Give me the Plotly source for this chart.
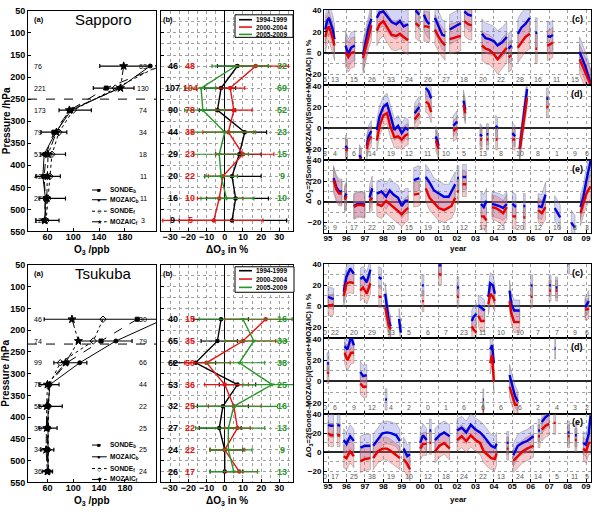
import plotly.graph_objects as go

FONT = "Liberation Sans"
W, H = 608, 512

# ---------------- data ----------------
LEVELS = [175, 225, 275, 325, 375, 425, 475, 525]
PROFILE_NAMES = ["SONDE<sub>b</sub>", "MOZAIC<sub>b</sub>", "SONDE<sub>f</sub>", "MOZAIC<sub>f</sub>"]
PERIODS = ["1994-1999", "2000-2004", "2005-2009"]

# Sapporo (a)
SAP_SONDE_B = [236, 151, 95, 70, 58, 55, 57, 55]
SAP_MOZAIC_B = [219, 171, 97, 73, 55, 53, 57, 56]
SAP_SONDE_F = [232, 165, 100, 78, 67, 64, 61, 58]
SAP_MOZAIC_F = [178, 173, 94, 74, 61, 60, 59, 56]
SAP_ERR_LO = [141, 131, 78, 50, 50, 42, 47, 42]
SAP_ERR_HI = [221, 194, 128, 90, 88, 80, 88, 78]
SAP_N_LEFT = [76, 221, 173, 79, 51, 42, 27, 12]
SAP_N_RIGHT = [63, 130, 74, 34, 18, 11, 11, 3]
SAP_TROPO = 250

# Tsukuba (a)
TSU_SONDE_B = [199, 143, 90, 62, 60, 60, 60, 60]
TSU_MOZAIC_B = [240, 166, 110, 64, 61, 61, 60, 61]
TSU_SONDE_F = [146, 131, 80, 63, 62, 61, 61, 62]
TSU_MOZAIC_F = [98, 108, 88, 60, 59, 59, 58, 60]
TSU_ERR_LO = [55, 105, 70, 47, 47, 47, 50, 52]
TSU_ERR_HI = [235, 191, 121, 78, 83, 75, 70, 68]
TSU_N_LEFT = [46, 74, 99, 75, 55, 39, 34, 36]
TSU_N_RIGHT = [30, 79, 66, 44, 22, 25, 25, 24]
TSU_TROPO = 232

# Sapporo (b)
SAP_B_BLACK = [7, -2, -4, 11, 8, 4, 6, 4]
SAP_B_BLACK_LO = [-4, -11, -14, 0, -5, -11, -10, -25]
SAP_B_BLACK_HI = [24, 6, 6, 23, 20, 20, 24, 34]
SAP_B_RED = [17, 3, 5, 2, 10, -1, -3, -6]
SAP_B_RED_LO = [6, -5, -5, -12, -5, -9, -15, -34]
SAP_B_RED_HI = [35, 11, 15, 16, 27, 7, 10, 21]
SAP_B_GREEN = [6, -13, -12, 0, -3, -2, 1, None]
SAP_B_GREEN_LO = [-7, -22, -22, -18, -17, -11, -13, None]
SAP_B_GREEN_HI = [24, -5, 0, 17, 13, 7, 16, None]
SAP_B_N_BLACK = [46, 107, 90, 44, 29, 20, 16, 9]
SAP_B_N_RED = [48, 104, 78, 38, 23, 22, 10, 5]
SAP_B_N_GREEN = [32, 69, 52, 23, 15, 9, 10, None]

# Tsukuba (b)
TSU_B_BLACK = [-2, -4, -16, 7, -1, -3, 0, 0]
TSU_B_BLACK_LO = [-17, -13, -28, -3, -15, -14, -8, -8]
TSU_B_BLACK_HI = [13, 7, -5, 17, 13, 9, 10, 10]
TSU_B_RED = [22.5, 10, -10, 0, 5, 7, 0, 8]
TSU_B_RED_LO = [0, 0, -22, -11, -9, 0, -8, 0]
TSU_B_RED_HI = [50, 28, 3, 13, 20, 14, 11, 18]
TSU_B_GREEN = [10, 16, 8, 26, 5, 2, 2, 5]
TSU_B_GREEN_LO = [-14, 0, -10, 10, -17, -16, -8, -8]
TSU_B_GREEN_HI = [37, 34, 22, 39, 29, 22, 15, 18]
TSU_B_N_BLACK = [40, 65, 62, 53, 32, 27, 24, 26]
TSU_B_N_RED = [15, 35, 50, 36, 25, 22, 22, 17]
TSU_B_N_GREEN = [16, 33, 38, 25, 16, 13, 9, 13]

# time axis
YEAR_TICKS = [1995, 1996, 1997, 1998, 1999, 2000, 2001, 2002, 2003, 2004, 2005, 2006, 2007, 2008, 2009]
YEAR_LABELS = ["95", "96", "97", "98", "99", "00", "01", "02", "03", "04", "05", "06", "07", "08", "09"]
COUNT_POS = [1994.82, 1995.4, 1996.4, 1997.4, 1998.4, 1999.4, 2000.4, 2001.4, 2002.4,
             2003.4, 2004.4, 2005.4, 2006.4, 2007.4, 2008.4, 2009.06]

SAP_C_N = [5, 13, 15, 26, 33, 24, 26, 27, 18, 20, 22, 28, 16, 11, 15]
SAP_D_N = [8, 4, 6, 14, 19, 12, 11, 10, 5, 13, 8, 10, 8, 1, 9, 6]
SAP_E_N = [5, 9, 17, 22, 20, 15, 19, 16, 12, 17, 23, 20, 12, 10, 8, 3]
TSU_C_N = [0, 22, 20, 29, 13, 5, 6, 7, 23, 11, 10, 10, 7, 7, 9, 6]
TSU_D_N = [0, 6, 9, 12, 4, 2, 0, 1, 6, 6, 6, 6, 2, 4, 3, 2]
TSU_E_N = [0, 17, 25, 38, 19, 10, 12, 18, 24, 22, 13, 24, 14, 5, 11, 5]

SAP_C_T = [1994.85, 1994.95, 1995.05, 1995.15, 1995.25, 1995.35, None,
           1995.95, 1996.1, 1996.25, 1996.45, None,
           1996.9, 1997.05, 1997.2, 1997.35, None,
           1997.65, 1997.8, 1998.0, 1998.2, 1998.45, 1998.7, 1998.9, 1999.1, 1999.35, None,
           1999.75, 1999.95, None,
           2000.2, 2000.35, 2000.5, None,
           2000.8, 2001.0, 2001.2, 2001.35, None,
           2001.6, 2001.8, 2002.0, 2002.2, None,
           2002.4, 2002.6, 2002.8, None,
           2003.35, 2003.55, 2003.75, 2004.0, 2004.2, 2004.45, 2004.7, None,
           2004.8, 2004.95, None,
           2005.3, 2005.5, 2005.7, 2005.95, None,
           2006.25, 2006.35, None,
           2006.9, 2007.05, 2007.2, None,
           2008.65, 2008.8, 2008.95, 2009.1, 2009.25]
SAP_C_BLUE = [22, 30, 33, 27, 22, 13, None,
              7, -1, 5, 7, None,
              -2, 10, 24, 32, None,
              33, 38, 39, 35, 29, 27, 30, 25, 27, None,
              40, 36, None,
              36, 30, 27, None,
              33, 25, 17, 16, None,
              22, 24, 26, 28, None,
              39, 36, 35, None,
              18, 14, 13, 11, 7, 10, 15, None,
              4, 7, None,
              18, 24, 27, 33, None,
              19, 19, None,
              16, 15, 17, None,
              1, -5, -12, -20, -29]
SAP_C_RED = [15, 22, 25, 20, 14, 7, None,
             1, -4, 0, 1, None,
             -5, 6, 18, 26, None,
             21, 27, 30, 24, 17, 16, 18, 15, 12, None,
             28, 25, None,
             25, 25, 24, None,
             22, 15, 10, 7, None,
             13, 14, 15, 16, None,
             30, 27, 26, None,
             7, 4, 3, -1, -6, -1, 5, None,
             -4, -2, None,
             5, 10, 15, 18, None,
             4, 4, None,
             7, 8, 10, None,
             -6, -12, -18, -24, -30]
SAP_C_SPREAD = 14

SAP_D_T = [1995.95, 1996.05, None,
           1996.7, 1996.8, None,
           1997.1, 1997.2, 1997.35, None,
           1997.65, 1997.8, 1998.0, 1998.2, 1998.35, 1998.6, 1998.8, 1999.0, 1999.2, 1999.35, None,
           1999.7, 1999.95, None,
           2000.3, 2000.45, 2000.6, None,
           2000.85, 2001.0, None,
           2001.8, 2002.0, None,
           2002.35, 2002.45, None,
           2003.25, 2003.35, None,
           2003.6, 2003.7, None,
           2004.1, 2004.2, None,
           2005.0, 2005.15, None,
           2005.4, 2005.6, 2005.8, None,
           2006.85, 2006.95]
SAP_D_BLUE = [-17, -20, None,
              -26, -29, None,
              -17, -8, -3, None,
              -2, 11, 20, 23, 14, -2, 2, -5, 0, -2, None,
              14, 20, None,
              38, 35, 28, None,
              -8, -17, None,
              2, 6, None,
              26, 17, None,
              -6, -8, None,
              -6, -6, None,
              2, 0, None,
              -5, -8, None,
              -20, 8, 37, None,
              28, 28]
SAP_D_RED = [-20, -22, None,
             -29, -30, None,
             -20, -12, -8, None,
             -12, 2, 12, 14, 3, -9, -8, -11, -7, -6, None,
             8, 14, None,
             25, 23, 15, None,
             -12, -20, None,
             -3, 0, None,
             22, 14, None,
             -11, -11, None,
             -11, -11, None,
             -11, -11, None,
             -11, -11, None,
             -20, 5, 29, None,
             20, 20]
SAP_D_SPREAD = 10

SAP_E_T = [1995.3, 1995.45, 1995.6, 1995.75, None,
           1995.9, 1996.0, None,
           1996.4, 1996.6, 1996.8, 1997.0, None,
           1997.25, 1997.4, None,
           1997.65, 1997.9, 1998.15, 1998.35, 1998.55, 1998.8, 1999.0, 1999.2, 1999.35, None,
           1999.65, 1999.95, None,
           2000.3, 2000.5, 2000.75, 2001.0, 2001.3, 2001.55, 2001.7, 2001.9, None,
           2002.0, 2002.1, None,
           2002.3, 2002.5, None,
           2003.3, 2003.45, 2003.6, None,
           2003.9, 2004.1, 2004.3, 2004.5, 2004.7, None,
           2005.0, 2005.2, None,
           2005.6, 2005.7, None,
           2006.4, 2006.6, 2006.8, None,
           2007.3, 2007.45, 2007.6, None,
           2008.2, 2008.4, None,
           2008.7, 2008.85, 2009.0, 2009.15, 2009.25]
SAP_E_BLUE = [23, 14, 10, 10, None,
              4, 8, None,
              -4, -2, -2, -3, None,
              4, 13, None,
              8, 10, 5, 11, 7, 4, -4, 1, 1, None,
              21, 23, None,
              24, 19, 11, 8, 5, 5, 10, 17, None,
              23, 23, None,
              24, 24, None,
              -2, -5, 1, None,
              -2, -3, -4, -6, -2, None,
              -2, -5, None,
              -4, -4, None,
              -4, -5, 7, None,
              -6, -11, -15, None,
              -20, -25, None,
              -5, 4, 19, 33, 40]
SAP_E_RED = [21, 12, 8, 8, None,
             2, 6, None,
             -5, -3, -3, -4, None,
             1, 4, None,
             -2, -4, 1, -2, -5, -9, -12, -8, -6, None,
             7, 8, None,
             13, 4, -1, -6, -8, -5, -4, 4, None,
             10, 10, None,
             17, 17, None,
             -14, -14, -18, None,
             -5, -6, -8, -11, -5, None,
             -14, -14, None,
             -15, -15, None,
             -8, -11, -5, None,
             None, None, None, None,
             None, None, None,
             -11, -2, 7, 12, 15]
SAP_E_SPREAD = 12

TSU_C_T = [1995.0, 1995.15, 1995.3, None,
           1995.85, 1996.0, 1996.2, 1996.4, None,
           1996.75, 1996.9, 1997.1, 1997.3, None,
           1997.75, 1997.9, None,
           1998.1, 1998.2, 1998.3, 1998.4, None,
           1998.85, 1998.95, None,
           2000.1, 2000.2, None,
           2001.0, 2001.15, None,
           2002.0, 2002.1, None,
           2002.8, 2002.9, 2003.05, None,
           2003.15, 2003.3, 2003.5, None,
           2003.7, 2003.8, 2003.95, 2004.05, None,
           2004.85, 2004.95, 2005.1, 2005.4, None,
           2006.0, 2006.1, None,
           2007.0, 2007.1, None,
           2007.35, 2007.45, None,
           2008.0, 2008.1, None,
           2008.95, 2009.05, 2009.15]
TSU_C_BLUE = [9, 8, 7, None,
              14, 28, 36, 31, None,
              26, 28, 23, 35, None,
              28, 26, None,
              12, 1, -14, -19, None,
              -12, -25, None,
              20, 20, None,
              39, 39, None,
              18, 18, None,
              -14, -10, -7, None,
              1, -1, -4, None,
              9, 22, 20, 12, None,
              15, 2, -4, -4, None,
              20, 20, None,
              20, 20, None,
              18, 18, None,
              41, 41, None,
              -1, 2, 5]
TSU_C_RED = [1, 1, 2, None,
             10, 22, 23, 22, None,
             15, 18, 12, 22, None,
             9, 9, None,
             -1, -11, -19, -22, None,
             None, None, None,
             5, 5, None,
             31, 30, None,
             9, 9, None,
             -19, -22, -25, None,
             -9, -14, -14, None,
             2, 12, 9, 5, None,
             5, -7, -15, -15, None,
             9, 9, None,
             15, 15, None,
             15, 15, None,
             None, None, None,
             -3, -3, -2]
TSU_C_SPREAD = 10

TSU_D_T = [1994.95, 1995.05, None,
           1995.9, 1996.05, 1996.25, 1996.4, None,
           1996.75, 1996.9, 1997.1, None,
           1998.1, 1998.2, None,
           2003.4, 2003.45, None,
           2003.8, 2003.9, 2004.0, None,
           2004.85, 2005.0, 2005.15, 2005.3, None,
           2007.3, 2007.35]
TSU_D_BLUE = [17, 17, None,
              33, 30, 42, 34, None,
              9, 5, 6, None,
              -17, -17, None,
              -17, -17, None,
              30, 34, 17, None,
              6, -5, -14, -19, None,
              31, 31]
TSU_D_RED = [8, 8, None,
             27, 20, 27, 27, None,
             -2, -5, -5, None,
             None, None, None,
             -28, -28, None,
             17, 25, 0, None,
             -5, -14, -22, -22, None,
             None, None]
TSU_D_SPREAD = 10

TSU_E_T = [1995.0, 1995.15, 1995.3, None,
           1995.5, 1995.65, None,
           1995.85, 1996.0, 1996.2, 1996.4, None,
           1996.75, 1997.0, 1997.3, None,
           1997.45, 1997.7, 1997.95, 1998.2, 1998.45, 1998.7, 1998.9, None,
           1999.1, 1999.3, 1999.45, None,
           2000.0, 2000.15, 2000.35, None,
           2000.5, 2000.6, None,
           2000.8, 2001.05, 2001.3, 2001.6, None,
           2002.0, 2002.25, 2002.5, 2002.75, 2003.0, 2003.25, 2003.45, 2003.65, 2003.85, 2004.05, 2004.15, None,
           2004.7, 2004.8, None,
           2005.05, 2005.3, 2005.55, 2005.8, 2006.15, None,
           2006.4, 2006.5, None,
           2006.6, 2006.8, 2007.0, None,
           2007.25, 2007.35, None,
           2008.0, 2008.1, None,
           2008.4, 2008.5, None,
           2008.85, 2009.0, 2009.15, 2009.25]
TSU_E_BLUE = [29, 28, 28, None,
              29, 28, None,
              13, 9, 17, 12, None,
              5, 7, 7, None,
              7, 13, 20, 21, 20, 18, 12, None,
              4, -4, -2, None,
              10, 18, 13, None,
              23, 23, None,
              13, 18, 21, 17, None,
              23, 26, 21, 29, 24, 21, 17, 12, 7, 5, 9, None,
              10, 10, None,
              -3, 7, 10, 12, 17, None,
              23, 23, None,
              32, 37, 40, None,
              None, None, None,
              21, 21, None,
              18, 18, None,
              10, 8, 20, 39]
TSU_E_RED = [20, 18, 18, None,
             18, 18, None,
             -4, -6, 1, -4, None,
             -9, -7, -6, None,
             -6, 1, 4, 4, 1, -3, -6, None,
             -7, -12, -18, None,
             4, 9, 9, None,
             10, 10, None,
             1, 7, 10, 4, None,
             13, 17, 12, 18, 13, 10, 1, -3, -6, -7, -1, None,
             4, 4, None,
             -9, -4, 1, 4, 7, None,
             17, 17, None,
             24, 28, 30, None,
             31, 31, None,
             17, 17, None,
             13, 13, None,
             4, 1, 10, 10]
TSU_E_SPREAD = 12

# ---------------- styling helpers ----------------
BLACK = "black"
RED = "rgb(230,20,20)"
GREEN = "rgb(40,150,40)"
BLUE_LINE = "rgb(0,0,225)"
RED_LINE = "rgb(230,0,0)"
BLUE_BAND = "rgba(120,120,230,0.32)"
RED_BAND = "rgba(240,100,100,0.35)"
GRID = "rgb(160,160,160)"


def px(xp):
    return xp / W


def py(yp):
    return 1 - yp / H


def ax_id(i, axis):
    return axis if i == 1 else f"{axis}{i}"


def lay_key(i, axis):
    return f"{axis}axis" if i == 1 else f"{axis}axis{i}"


def base_axis(**kw):
    d = dict(showline=True, mirror=True, linecolor="black", linewidth=1,
             ticks="inside", ticklen=3, tickcolor="black", tickwidth=1,
             tickfont=dict(family=FONT, size=9, color="black", weight="bold"),
             showgrid=False, zeroline=False, fixedrange=True)
    d.update(kw)
    return d


fig = go.Figure()
layout = {}
annotations = []
shapes = []


def ann(text, x, y, xref="paper", yref="paper", size=9, color="black", bold=True,
        xanchor="center", yanchor="middle", angle=0):
    annotations.append(dict(text=text, x=x, y=y, xref=xref, yref=yref, showarrow=False,
                            xanchor=xanchor, yanchor=yanchor, textangle=angle,
                            font=dict(family=FONT, size=size, color=color,
                                      weight="bold" if bold else "normal")))


def runs(t, v):
    seg = []
    for a, b in zip(t, v):
        if a is None or b is None:
            if seg:
                yield seg
            seg = []
        else:
            seg.append((a, b))
    if seg:
        yield seg


def add_band(t, v, spread, color, xa, ya):
    xs, ys = [], []
    for seg in runs(t, v):
        tt = [p[0] for p in seg]
        vv = [p[1] for p in seg]
        xs += tt + tt[::-1] + [tt[0], None]
        ys += [q + spread for q in vv] + [q - spread for q in vv[::-1]] + [vv[0] + spread, None]
    fig.add_trace(go.Scatter(x=xs, y=ys, mode="lines", fill="toself", fillcolor=color,
                             line=dict(color="rgba(110,110,110,0.7)", width=0.6),
                             xaxis=xa, yaxis=ya, hoverinfo="skip", showlegend=False))


STATIONS = [
    dict(name="Sapporo", base=0, ab=(6, 231), stack=(5, 82, 158, 233),
         prof=[SAP_SONDE_B, SAP_MOZAIC_B, SAP_SONDE_F, SAP_MOZAIC_F],
         err=(SAP_ERR_LO, SAP_ERR_HI), nl=SAP_N_LEFT, nr=SAP_N_RIGHT, tropo=SAP_TROPO,
         leg_p=[456, 478, 504, 528],
         b=[(SAP_B_BLACK, SAP_B_BLACK_LO, SAP_B_BLACK_HI, BLACK, "circle", SAP_B_N_BLACK),
            (SAP_B_RED, SAP_B_RED_LO, SAP_B_RED_HI, RED, "circle", SAP_B_N_RED),
            (SAP_B_GREEN, SAP_B_GREEN_LO, SAP_B_GREEN_HI, GREEN, "triangle-down", SAP_B_N_GREEN)],
         bleg=(235, 293, 10, 33, [15, 22.5, 30]),
         ts=[(SAP_C_T, SAP_C_BLUE, SAP_C_RED, SAP_C_SPREAD, SAP_C_N, "(c)"),
             (SAP_D_T, SAP_D_BLUE, SAP_D_RED, SAP_D_SPREAD, SAP_D_N, "(d)"),
             (SAP_E_T, SAP_E_BLUE, SAP_E_RED, SAP_E_SPREAD, SAP_E_N, "(e)")],
         titley=250, yeary=248, longy=119),
    dict(name="Tsukuba", base=5, ab=(265, 487), stack=(264, 340, 417, 486),
         prof=[TSU_SONDE_B, TSU_MOZAIC_B, TSU_SONDE_F, TSU_MOZAIC_F],
         err=(TSU_ERR_LO, TSU_ERR_HI), nl=TSU_N_LEFT, nr=TSU_N_RIGHT, tropo=TSU_TROPO,
         leg_p=[464, 491, 518, 543],
         b=[(TSU_B_BLACK, TSU_B_BLACK_LO, TSU_B_BLACK_HI, BLACK, "circle", TSU_B_N_BLACK),
            (TSU_B_RED, TSU_B_RED_LO, TSU_B_RED_HI, RED, "circle", TSU_B_N_RED),
            (TSU_B_GREEN, TSU_B_GREEN_LO, TSU_B_GREEN_HI, GREEN, "triangle-down", TSU_B_N_GREEN)],
         bleg=(235, 294, 267, 293, [271, 279.5, 288]),
         ts=[(TSU_C_T, TSU_C_BLUE, TSU_C_RED, TSU_C_SPREAD, TSU_C_N, "(c)"),
             (TSU_D_T, TSU_D_BLUE, TSU_D_RED, TSU_D_SPREAD, TSU_D_N, "(d)"),
             (TSU_E_T, TSU_E_BLUE, TSU_E_RED, TSU_E_SPREAD, TSU_E_N, "(e)")],
         titley=506, yeary=504, longy=378),
]

PROF_STYLE = [("dash", "square", 4), ("solid", "circle", 4), ("dot", "diamond-open", 5), ("dashdot", "star", 6)]
LEG_SYMBOL = ["■", "●", "◇", "★"]
P_TICKS = [50, 100, 150, 200, 250, 300, 350, 400, 450, 500, 550]

for st in STATIONS:
    ia, ib = st["base"] + 1, st["base"] + 2
    top, bot = st["ab"]
    # ---------- panel (a) ----------
    xa, ya = ax_id(ia, "x"), ax_id(ia, "y")
    layout[lay_key(ia, "x")] = base_axis(domain=[px(28), px(156)], range=[30, 228], anchor=ya,
                                         tickvals=[60, 100, 140, 180], ticklabelstandoff=-3)
    layout[lay_key(ia, "y")] = base_axis(domain=[py(bot), py(top)], range=[550, 50], anchor=xa,
                                         tickvals=P_TICKS)
    lo, hi = st["err"]
    fig.add_trace(go.Scatter(x=[(a + b) / 2 for a, b in zip(lo, hi)], y=LEVELS, mode="markers",
                             marker=dict(size=1, color="rgba(0,0,0,0)"),
                             error_x=dict(type="data", array=[(b - a) / 2 for a, b in zip(lo, hi)],
                                          color="black", thickness=1.2, width=2),
                             xaxis=xa, yaxis=ya, showlegend=False, hoverinfo="skip"))
    for vals, (dash, sym, ms) in zip(st["prof"], PROF_STYLE):
        fig.add_trace(go.Scatter(x=vals, y=LEVELS, mode="lines+markers",
                                 line=dict(color="black", width=1, dash=dash),
                                 marker=dict(symbol=sym, size=ms, color="black",
                                             line=dict(color="black", width=1)),
                                 xaxis=xa, yaxis=ya, showlegend=False))
    shapes.append(dict(type="line", xref=f"{xa} domain", yref=ya, x0=0, x1=1,
                       y0=st["tropo"], y1=st["tropo"], line=dict(color="black", width=1, dash="dash")))
    for p, n1, n2 in zip(LEVELS, st["nl"], st["nr"]):
        ann(str(n1), 0.03, p, xref=f"{xa} domain", yref=ya, size=7, bold=False, xanchor="left")
        ann(str(n2), 0.9, p, xref=f"{xa} domain", yref=ya, size=7, bold=False)
    for k, (name, (dash, sym, ms)) in enumerate(zip(PROFILE_NAMES, PROF_STYLE)):
        p = st["leg_p"][k]
        shapes.append(dict(type="line", xref=f"{xa} domain", yref=ya, x0=0.5, x1=0.615, y0=p, y1=p,
                           line=dict(color="black", width=1, dash=dash)))
        ann(LEG_SYMBOL[k], 0.557, p, xref=f"{xa} domain", yref=ya, size=6, bold=False)
        ann(name, 0.625, p, xref=f"{xa} domain", yref=ya, size=6.5, xanchor="left")
    ann("(a)", px(39), py(top + 9), size=7.5)
    ann(st["name"], px(103), py(top + 9), size=15, bold=False)
    ann("Pressure /hPa", px(6), py((top + bot) / 2), size=10, angle=-90)
    ann("O<sub>3</sub> /ppb", px(92), py(st["titley"]), size=10)

    # ---------- panel (b) ----------
    xb, yb = ax_id(ib, "x"), ax_id(ib, "y")
    layout[lay_key(ib, "x")] = base_axis(domain=[px(161), px(293)], range=[-35, 37.5], anchor=yb,
                                         tickvals=[-30, -20, -10, 0, 10, 20, 30], ticklabelstandoff=-3,
                                         showgrid=True, gridcolor=GRID, griddash="dot", gridwidth=0.6,
                                         minor=dict(dtick=5, tick0=0, showgrid=True, gridcolor=GRID,
                                                    griddash="dot", gridwidth=0.6),
                                         zeroline=True, zerolinecolor="black", zerolinewidth=1)
    layout[lay_key(ib, "y")] = base_axis(domain=[py(bot), py(top)], range=[550, 50], anchor=xb,
                                         tickvals=P_TICKS, showticklabels=False,
                                         showgrid=True, gridcolor=GRID, griddash="dot", gridwidth=0.6,
                                         minor=dict(dtick=25, tick0=50, showgrid=True, gridcolor=GRID,
                                                    griddash="dot", gridwidth=0.6))
    for vals, lo_b, hi_b, col, sym, _n in st["b"]:
        plus = [None if v is None else h - v for v, h in zip(vals, hi_b)]
        minus = [None if v is None else v - l for v, l in zip(vals, lo_b)]
        fig.add_trace(go.Scatter(x=vals, y=LEVELS, mode="lines+markers",
                                 line=dict(color=col, width=1.4),
                                 marker=dict(symbol=sym, size=4.5, color=col),
                                 error_x=dict(type="data", symmetric=False, array=plus, arrayminus=minus,
                                              color=col, thickness=1.2, width=2),
                                 xaxis=xb, yaxis=yb, showlegend=False))
    nx = [0.09, 0.22, 0.92]
    for (vals, lo_b, hi_b, col, sym, nums), xx in zip(st["b"], nx):
        for p, n in zip(LEVELS, nums):
            if n is not None:
                ann(str(n), xx, p, xref=f"{xb} domain", yref=yb, size=9, color=col)
    x0, x1, y0, y1, rows = st["bleg"]
    shapes.append(dict(type="rect", xref="paper", yref="paper", x0=px(x0), x1=px(x1), y0=py(y1), y1=py(y0),
                       line=dict(color="black", width=1), fillcolor="white"))
    for (vals, lo_b, hi_b, col, sym, _n), lab, ry in zip(st["b"], PERIODS, rows):
        shapes.append(dict(type="line", xref="paper", yref="paper", x0=px(x0 + 4), x1=px(x0 + 17),
                           y0=py(ry), y1=py(ry), line=dict(color=col, width=1.6)))
        ann(lab, px(x0 + 19), py(ry), size=6.5, xanchor="left")
    ann("(b)", px(168), py(top + 9), size=7.5)
    ann("ΔO<sub>3</sub> in %", px(227), py(st["titley"]), size=10)

    # ---------- panels (c)(d)(e) ----------
    s = st["stack"]
    for k, (t, blue, red, spread, counts, label) in enumerate(st["ts"]):
        i = st["base"] + 3 + k
        xi, yi = ax_id(i, "x"), ax_id(i, "y")
        last = (k == 2)
        layout[lay_key(i, "x")] = base_axis(domain=[px(324), px(591)], range=[1994.78, 2009.27], anchor=yi,
                                            tickvals=YEAR_TICKS, ticktext=YEAR_LABELS, ticklabelstandoff=-3,
                                            showticklabels=last, tickfont=dict(family=FONT, size=8, color="black", weight="bold"),
                                            showgrid=True, gridcolor=GRID, griddash="dot", gridwidth=0.7)
        layout[lay_key(i, "y")] = base_axis(domain=[py(s[k + 1]), py(s[k])], range=[-30.5, 40.5], anchor=xi,
                                            tickvals=[-20, 0, 20, 40],
                                            tickfont=dict(family=FONT, size=8, color="black", weight="bold"),
                                            showgrid=True, gridcolor=GRID, griddash="dot", gridwidth=0.7,
                                            minor=dict(tickvals=[-30, -10, 10, 30], showgrid=True, gridcolor=GRID,
                                                       griddash="dot", gridwidth=0.7, ticks=""),
                                            zeroline=True, zerolinecolor="rgb(40,40,40)", zerolinewidth=1.6)
        add_band(t, blue, spread, BLUE_BAND, xi, yi)
        add_band(t, red, spread, RED_BAND, xi, yi)
        fig.add_trace(go.Scatter(x=t, y=blue, mode="lines", line=dict(color=BLUE_LINE, width=2.4),
                                 xaxis=xi, yaxis=yi, showlegend=False, connectgaps=False))
        fig.add_trace(go.Scatter(x=t, y=red, mode="lines", line=dict(color=RED_LINE, width=2.4),
                                 xaxis=xi, yaxis=yi, showlegend=False, connectgaps=False))
        for xpos, n in zip(COUNT_POS, counts):
            ann(str(n), xpos, 0.08, xref=xi, yref=f"{yi} domain", size=7, color="rgb(90,90,90)", bold=False)
        ann(label, 0.948, 0.88, xref=f"{xi} domain", yref=f"{yi} domain", size=9)
    ann("year", px(458), py(st["yeary"]), size=8)
    ann("ΔO<sub>3</sub>=2(Sonde-MOZAIC)/(Sonde+MOZAIC) in %", px(309), py(st["longy"]), size=7.5, angle=-90)

fig.update_layout(width=W, height=H, margin=dict(l=0, r=0, t=0, b=0),
                  paper_bgcolor="white", plot_bgcolor="white", showlegend=False,
                  annotations=annotations, shapes=shapes, **layout)
fig.write_html("out.html")
